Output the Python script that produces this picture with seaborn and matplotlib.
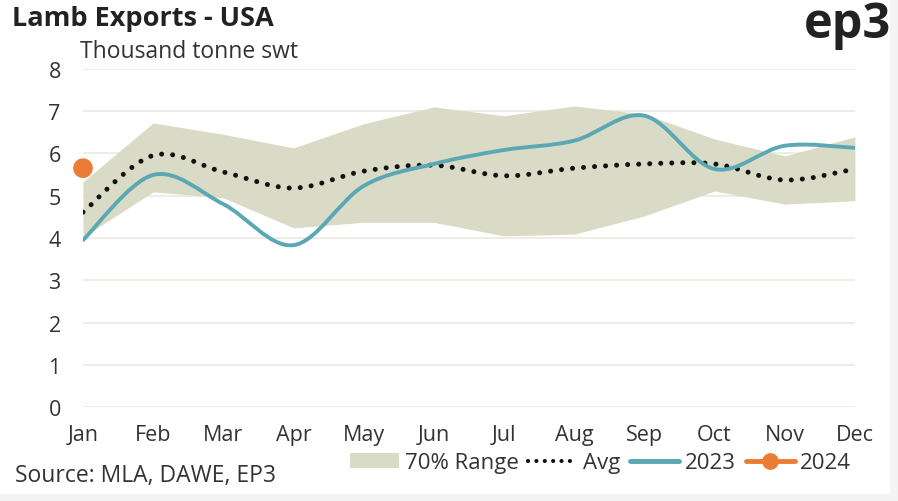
import numpy as np
import matplotlib
matplotlib.use("Agg")
import matplotlib.pyplot as plt
import seaborn as sns
from matplotlib.path import Path
from matplotlib.patches import PathPatch, Patch, Rectangle
from matplotlib.lines import Line2D

# data (thousand tonne swt)
months = ["Jan", "Feb", "Mar", "Apr", "May", "Jun", "Jul", "Aug", "Sep", "Oct", "Nov", "Dec"]
range_low = [4.02, 5.09, 4.95, 4.24, 4.37, 4.37, 4.05, 4.09, 4.52, 5.11, 4.80, 4.88]
range_high = [5.33, 6.72, 6.45, 6.13, 6.70, 7.10, 6.89, 7.12, 6.93, 6.34, 5.94, 6.39]
avg = [4.61, 5.95, 5.56, 5.18, 5.58, 5.72, 5.47, 5.65, 5.75, 5.75, 5.37, 5.63]
y2023 = [3.95, 5.49, 4.80, 3.83, 5.23, 5.75, 6.08, 6.30, 6.89, 5.63, 6.18, 6.13]
y2024 = [5.65]

TEAL = "#5aa8b4"
ORANGE = "#ec7c34"
BAND = "#d9dbc6"
TXT = "#333333"


def smooth_path(xs, ys):
    # catmull-rom style bezier through the monthly points
    pts = np.column_stack([xs, ys]).astype(float)
    ext = np.vstack([pts[0], pts, pts[-1]])
    verts = [tuple(pts[0])]
    codes = [Path.MOVETO]
    for i in range(1, len(ext) - 2):
        p0, p1, p2, p3 = ext[i - 1], ext[i], ext[i + 1], ext[i + 2]
        c1 = p1 + (p2 - p0) / 6
        c2 = p2 - (p3 - p1) / 6
        verts += [tuple(c1), tuple(c2), tuple(p2)]
        codes += [Path.CURVE4] * 3
    return Path(verts, codes)


sns.set_theme(style="white")
plt.rcParams["font.family"] = ["Open Sans", "DejaVu Sans"]

fig = plt.figure(figsize=(8.98, 5.02), dpi=100)
ax = fig.add_axes([0.0924, 0.187, 0.8596, 0.674])

x = np.arange(len(months))
ax.fill_between(x, range_low, range_high, color=BAND, lw=0, zorder=1)

ax.add_patch(PathPatch(smooth_path(x, avg), fill=False, color="#111111", lw=3.6,
                       linestyle=(0, (0.01, 2.2)), capstyle="round", zorder=3))
ax.add_patch(PathPatch(smooth_path(x, y2023), fill=False, color=TEAL, lw=2.8,
                       capstyle="round", zorder=4))
sns.scatterplot(x=x[:len(y2024)], y=y2024, color=ORANGE, s=200, edgecolor="none",
                ax=ax, zorder=5, clip_on=False)

ax.set_xlim(0, 11)
ax.set_ylim(0, 8)
ax.set_yticks(range(0, 9))
ax.set_xticks(x)
ax.set_xticklabels(months)
ax.grid(axis="y", color="#eaeae0", lw=1.2, zorder=0)
ax.grid(axis="x", visible=False)
for s in ax.spines.values():
    s.set_visible(False)
ax.tick_params(axis="y", length=0, pad=16, labelsize=15.5, labelcolor=TXT)
ax.tick_params(axis="x", length=0, pad=12, labelsize=15.5, labelcolor=TXT)

fig.text(0.013, 0.963, "Lamb Exports - USA", fontsize=19.5, fontweight="bold",
         color="#222222", va="center")
fig.text(0.089, 0.897, "Thousand tonne swt", fontsize=16.5, color=TXT, va="center")
fig.text(0.992, 0.95, "ep3", fontsize=35, fontweight="bold", color="#222222",
         va="center", ha="right")
fig.text(0.017, 0.052, "Source: MLA, DAWE, EP3", fontsize=16.5, color=TXT, va="center")

handles = [
    Patch(facecolor=BAND, edgecolor="none"),
    Line2D([], [], color="#111111", lw=3, linestyle=(0, (0.01, 2.0)), dash_capstyle="round"),
    Line2D([], [], color=TEAL, lw=3.5),
    Line2D([], [], color=ORANGE, lw=3.5, marker="o", markersize=11),
]
fig.legend(handles, ["70% Range", "Avg", "2023", "2024"], ncol=4, frameon=False,
           loc="center right", bbox_to_anchor=(0.97, 0.076), fontsize=16,
           handlelength=2.2, handletextpad=0.25, columnspacing=0.45,
           labelcolor=TXT)

# grey border strips at right and bottom edges
fig.patches.append(Rectangle((0.991, 0), 0.009, 1, transform=fig.transFigure,
                             color="#f4f4f4", zorder=-1))
fig.patches.append(Rectangle((0, 0), 1, 0.014, transform=fig.transFigure,
                             color="#f4f4f4", zorder=-1))

fig.savefig("out.png", dpi=100)
